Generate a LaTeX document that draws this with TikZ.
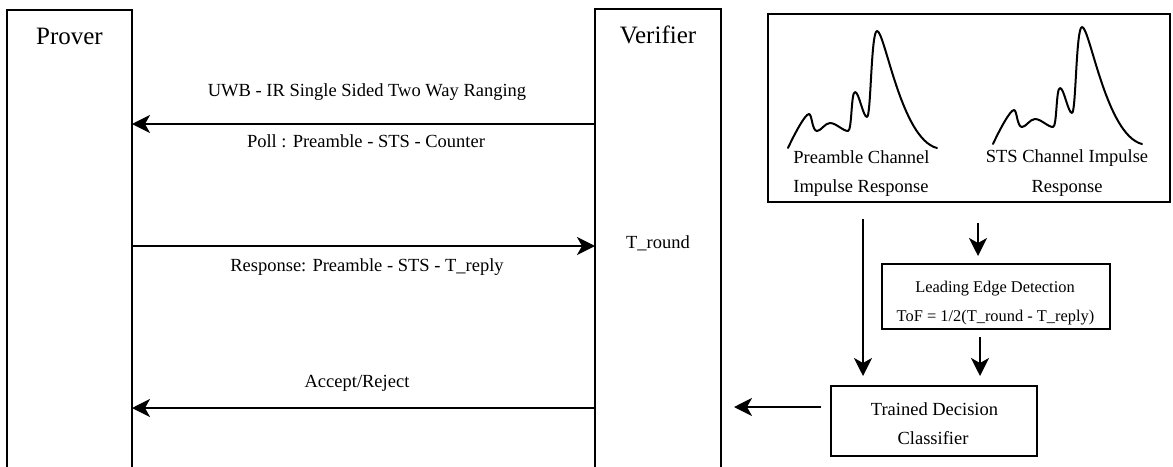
\documentclass[tikz,border=0pt]{standalone}
\usepackage{fontspec}
\setmainfont{Liberation Serif}
\usetikzlibrary{arrows.meta}

\tikzset{
  cirwave/.pic={
    \draw[wave] (0,0)
      .. controls (6,-13) and (17,-34) .. (21,-34)
      .. controls (24,-34) and (24,-17) .. (29,-17)
      .. controls (33,-17) and (37,-25) .. (42,-25)
      .. controls (48,-25) and (55,-17) .. (60,-17)
      .. controls (64,-17) and (63,-56) .. (67,-56)
      .. controls (71,-56) and (75,-31) .. (79,-31)
      .. controls (83,-31) and (83,-117) .. (89,-117)
      .. controls (97,-117) and (113,-9) .. (149,0);
  }
}

\begin{document}
\begin{tikzpicture}[x=1pt, y=-1pt,
  every node/.style={inner sep=0pt, outer sep=0pt},
  box/.style={draw, line width=2pt, rectangle, anchor=north west},
  ttl/.style={anchor=base, font=\fontsize{25}{30}\selectfont},
  lbl/.style={anchor=base, font=\fontsize{18.5}{22}\selectfont},
  sml/.style={anchor=base, font=\fontsize{16.4}{20}\selectfont},
  arr/.style={line width=2pt, -{Stealth[length=18pt, width=18pt, inset=5pt]}},
  wave/.style={line width=2pt, line join=round, line cap=round}]

\useasboundingbox (0,0) rectangle (1173,466);
\clip (0,0) rectangle (1173,466);

% lifelines of the two parties
\node[box, minimum width=125pt, minimum height=480pt] (prover) at (7,10) {};
\node[box, minimum width=126pt, minimum height=480pt] (verifier) at (595,9) {};
\node[ttl] (provertxt) at (69.5,44) {Prover};
\node[ttl] (verifiertxt) at (658,43) {Verifier};

% processing blocks
\node[box, minimum width=402pt, minimum height=188pt] (cir) at (768,14) {};
\node[box, minimum width=228pt, minimum height=65pt] (led) at (882,264) {};
\node[box, minimum width=206pt, minimum height=70pt] (trn) at (831,386) {};

% channel impulse responses
\pic at (788,148) {cirwave};
\pic at (993,144) {cirwave};
\node[lbl] (pre1) at (861.5,163) {Preamble Channel};
\node[lbl] (pre2) at (861,192) {Impulse Response};
\node[lbl] (sts1) at (1067,162) {STS Channel Impulse};
\node[lbl] (sts2) at (1067,192) {Response};

\node[sml] (led1) at (995,292) {Leading Edge Detection};
\node[sml] (led2) at (995.5,321) {ToF = 1/2(T\_round - T\_reply)};
\node[lbl] (trn1) at (934.5,415) {Trained Decision};
\node[lbl] (trn2) at (933,444) {Classifier};

% message labels
\node[lbl] (uwb) at (367,96) {UWB - IR Single Sided Two Way Ranging};
\node[lbl] (poll) at (366,147) {Poll : Preamble - STS - Counter};
\node[lbl] (resp) at (367,271) {Response: Preamble - STS - T\_reply};
\node[lbl] (tround) at (658,248) {T\_round};
\node[lbl] (acc) at (357,387) {Accept/Reject};

% rows and columns of the connectors
\coordinate (r1) at (0,124);
\coordinate (r2) at (0,246);
\coordinate (r3) at (0,408);
\coordinate (r4) at (0,407);
\coordinate (c1) at (863,0);
\coordinate (c2) at (978,0);
\coordinate (c3) at (980,0);

% ranging messages
\draw[arr] (verifier.west |- r1) -- (prover.east |- r1);
\draw[arr] (prover.east |- r2) -- (verifier.west |- r2);
\draw[arr] (verifier.west |- r3) -- (prover.east |- r3);

% decision pipeline
\draw[arr, shorten <=10pt, shorten >=13pt] (trn.west |- r4) -- (verifier.east |- r4);
\draw[arr, shorten <=17pt, shorten >=10pt] (cir.south -| c1) -- (trn.north -| c1);
\draw[arr, shorten <=21pt, shorten >=8pt] (cir.south -| c2) -- (led.north -| c2);
\draw[arr, shorten <=8pt, shorten >=10pt] (led.south -| c3) -- (trn.north -| c3);
\end{tikzpicture}
\end{document}
